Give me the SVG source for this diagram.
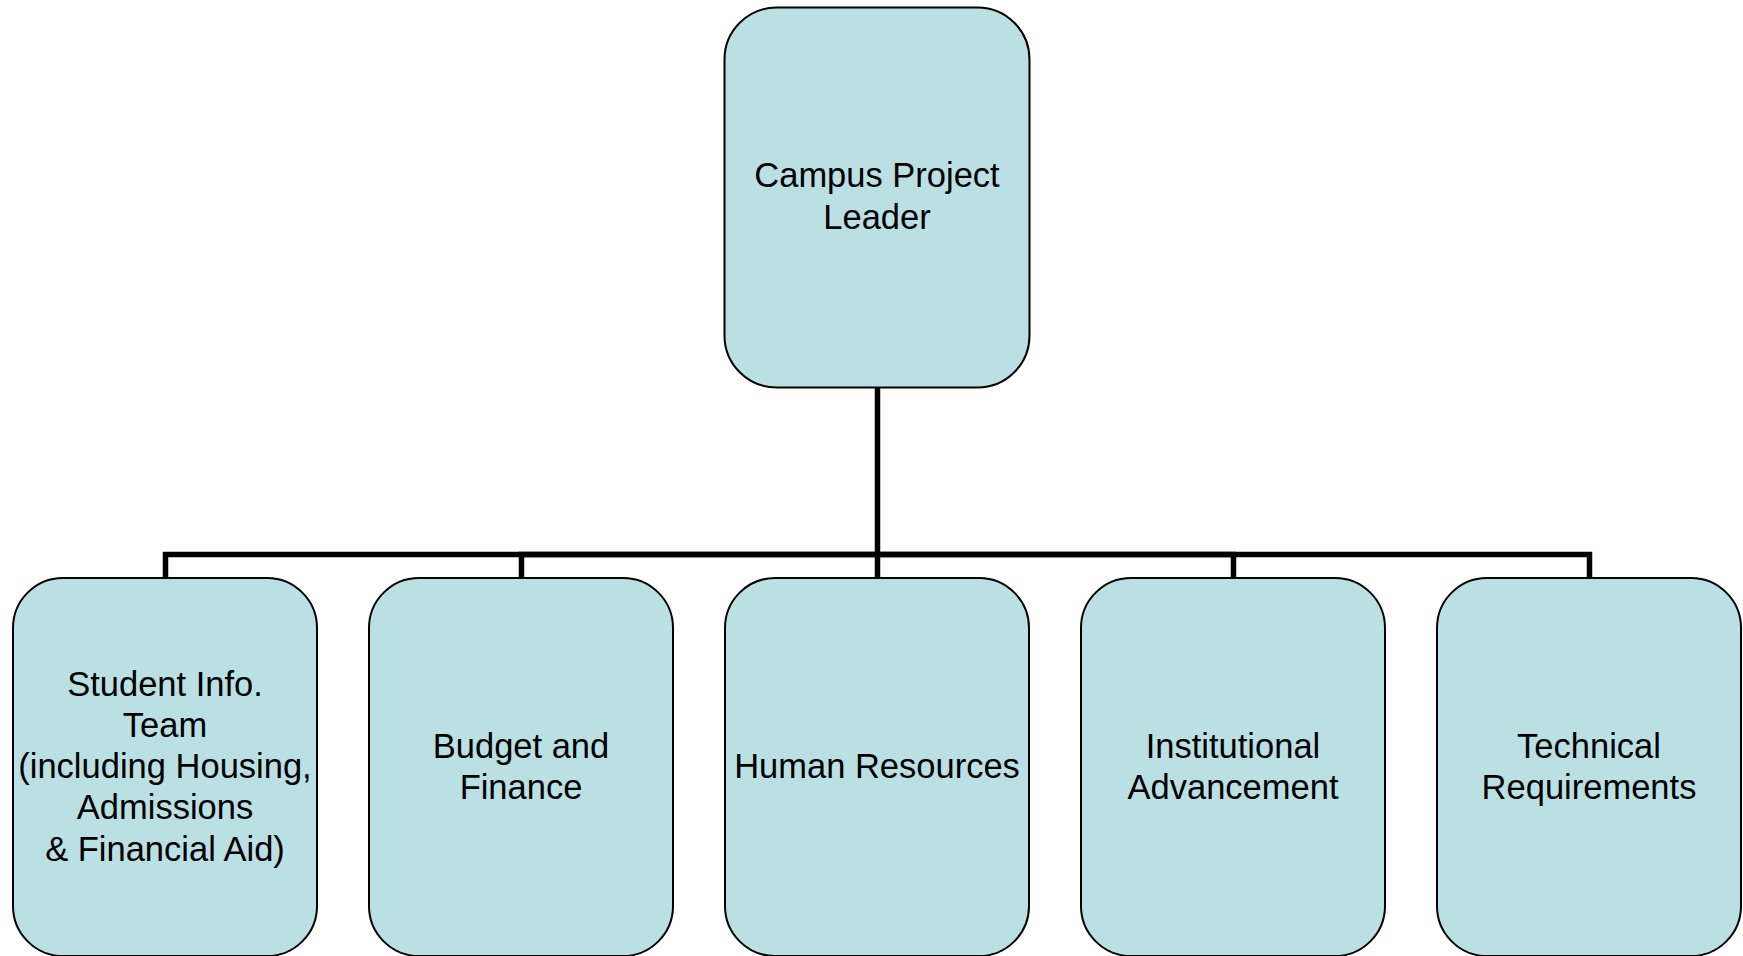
<svg xmlns="http://www.w3.org/2000/svg" width="1743" height="956" viewBox="0 0 1743 956">
<style>
.box{fill:#BAE0E3;stroke:#000;stroke-width:2}
.lbl{font-family:"Liberation Sans",Arial,sans-serif;font-size:34.5px;fill:#000;text-anchor:middle}
.con{fill:none;stroke:#000;stroke-width:5.5;stroke-linejoin:miter}
</style>
<rect width="1743" height="956" fill="#fff"/>
<g id="connectors">
<path class="con" d="M877.5 388 V554.5 H165.5 V578"/>
<path class="con" d="M877.5 554.5 H521.5 V578"/>
<path class="con" d="M877.5 554.5 V578"/>
<path class="con" d="M877.5 554.5 H1233.5 V578"/>
<path class="con" d="M877.5 554.5 H1589.5 V578"/>
</g>
<g id="node-leader">
<rect class="box" x="724.5" y="7.5" width="305" height="380" rx="52" ry="52"/>
<text class="lbl" x="877" y="187">Campus Project</text>
<text class="lbl" x="877" y="229">Leader</text>
</g>
<g id="node-student">
<rect class="box" x="13" y="578" width="304" height="378" rx="50" ry="50"/>
<text class="lbl" x="165" y="696">Student Info.</text>
<text class="lbl" x="165" y="737">Team</text>
<text class="lbl" x="165" y="778">(including Housing,</text>
<text class="lbl" x="165" y="819">Admissions</text>
<text class="lbl" x="165" y="861">&amp; Financial Aid)</text>
</g>
<g id="node-budget">
<rect class="box" x="369" y="578" width="304" height="378" rx="50" ry="50"/>
<text class="lbl" x="521" y="758">Budget and</text>
<text class="lbl" x="521" y="799">Finance</text>
</g>
<g id="node-hr">
<rect class="box" x="725" y="578" width="304" height="378" rx="50" ry="50"/>
<text class="lbl" x="877" y="778">Human Resources</text>
</g>
<g id="node-advancement">
<rect class="box" x="1081" y="578" width="304" height="378" rx="50" ry="50"/>
<text class="lbl" x="1233" y="758">Institutional</text>
<text class="lbl" x="1233" y="799">Advancement</text>
</g>
<g id="node-technical">
<rect class="box" x="1437" y="578" width="304" height="378" rx="50" ry="50"/>
<text class="lbl" x="1589" y="758">Technical</text>
<text class="lbl" x="1589" y="799">Requirements</text>
</g>
</svg>
